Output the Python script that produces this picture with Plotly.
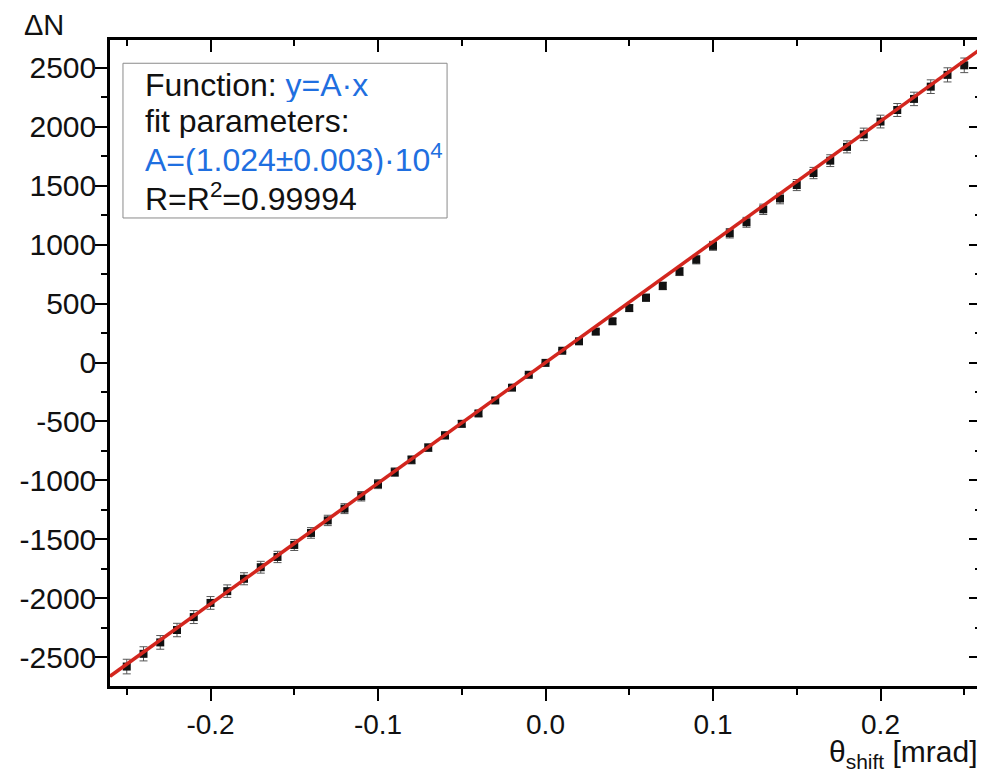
import plotly.graph_objects as go

# ---- data ----
theta_shift = [-0.25, -0.24, -0.23, -0.22, -0.21, -0.20, -0.19, -0.18, -0.17, -0.16,
               -0.15, -0.14, -0.13, -0.12, -0.11, -0.10, -0.09, -0.08, -0.07, -0.06,
               -0.05, -0.04, -0.03, -0.02, -0.01, 0.00, 0.01, 0.02, 0.03, 0.04,
               0.05, 0.06, 0.07, 0.08, 0.09, 0.10, 0.11, 0.12, 0.13, 0.14,
               0.15, 0.16, 0.17, 0.18, 0.19, 0.20, 0.21, 0.22, 0.23, 0.24, 0.25]
delta_n = [-2580, -2472, -2375, -2270, -2160, -2040, -1940, -1835, -1737, -1650,
           -1548, -1446, -1340, -1240, -1135, -1032, -930, -826, -722, -618,
           -520, -432, -322, -213, -104, -3, 100, 180, 262, 350,
           462, 550, 650, 772, 873, 990, 1097, 1190, 1300, 1392,
           1506, 1608, 1713, 1830, 1936, 2045, 2143, 2237, 2341, 2441, 2522]
delta_n_err = [62, 60, 58, 57, 55, 54, 53, 51, 50, 48,
               47, 45, 44, 42, 40, 38, 36, 34, 32, 30,
               27, 24, 21, 17, 12, 5, 12, 17, 21, 24,
               27, 30, 32, 34, 36, 38, 40, 42, 44, 45,
               47, 48, 50, 51, 53, 54, 55, 57, 58, 60, 62]
fit_A = 1.024e4
x_range = [-0.26, 0.26]
y_range = [-2745, 2737]
x_tickvals = [-0.2, -0.1, 0.0, 0.1, 0.2]
x_ticktext = ["-0.2", "-0.1", "0.0", "0.1", "0.2"]
y_tickvals = [-2500, -2000, -1500, -1000, -500, 0, 500, 1000, 1500, 2000, 2500]
y_ticktext = ["-2500", "-2000", "-1500", "-1000", "-500", "0", "500", "1000", "1500", "2000", "2500"]

FONT = "Liberation Sans, Arial, sans-serif"
BLUE = "#1f6fe0"
RED = "#d3261e"

fig = go.Figure()

fig.add_trace(go.Scatter(
    x=theta_shift, y=delta_n, mode="markers",
    marker=dict(symbol="square", size=8, color="#111111"),
    error_y=dict(type="data", array=delta_n_err, visible=True,
                 color="#555555", thickness=1, width=4),
    showlegend=False, hoverinfo="skip"))

fit_x = [x_range[0], x_range[1]]
fit_y = [fit_A * v for v in fit_x]
fig.add_trace(go.Scatter(
    x=fit_x, y=fit_y, mode="lines",
    line=dict(color=RED, width=3.5),
    showlegend=False, hoverinfo="skip"))

# dummy trace for the mirrored (inside) ticks on top/right
fig.add_trace(go.Scatter(x=[None], y=[None], xaxis="x2", yaxis="y2",
                         showlegend=False, hoverinfo="skip"))

axis_common = dict(showgrid=False, zeroline=False, automargin=False)

# page body adds an 8px offset, so the figure is 8px smaller than the window
fig.update_layout(
    width=977, height=764,
    margin=dict(l=102, r=4, t=32, b=86),
    plot_bgcolor="white", paper_bgcolor="white",
    font=dict(family=FONT, size=28, color="#111111"),
    xaxis=dict(range=x_range, tickvals=x_tickvals, ticktext=x_ticktext,
               ticks="outside", ticklen=12, tickwidth=2, tickcolor="black",
               showline=True, linewidth=2.5, linecolor="black", mirror=True,
               minor=dict(dtick=0.05, tick0=0, ticks="outside", ticklen=6,
                          tickwidth=2, tickcolor="black"),
               tickfont=dict(size=28), **axis_common),
    yaxis=dict(range=y_range, tickvals=y_tickvals, ticktext=y_ticktext,
               ticks="outside", ticklen=12, tickwidth=2, tickcolor="black",
               showline=True, linewidth=2.5, linecolor="black", mirror=True,
               minor=dict(dtick=250, tick0=0, ticks="outside", ticklen=6,
                          tickwidth=2, tickcolor="black"),
               ticklabelstandoff=-7,
               tickfont=dict(size=30), **axis_common),
    xaxis2=dict(range=x_range, overlaying="x", side="top", anchor="y",
                tickvals=x_tickvals, showticklabels=False,
                ticks="inside", ticklen=12, tickwidth=2, tickcolor="black",
                minor=dict(dtick=0.05, tick0=0, ticks="inside", ticklen=6,
                           tickwidth=2, tickcolor="black"),
                showline=False, **axis_common),
    yaxis2=dict(range=y_range, overlaying="y", side="right", anchor="x",
                tickvals=y_tickvals, showticklabels=False,
                ticks="inside", ticklen=12, tickwidth=2, tickcolor="black",
                minor=dict(dtick=250, tick0=0, ticks="inside", ticklen=6,
                           tickwidth=2, tickcolor="black"),
                showline=False, **axis_common),
)

# fit info box
fig.add_shape(type="rect", xref="paper", yref="paper",
              x0=0.0149, x1=0.387, y0=0.7245, y1=0.964,
              line=dict(color="#8a8a8a", width=1), fillcolor="white", layer="above")

box_lines = [
    ("Function: <span style='color:%s'>y=A·x</span>" % BLUE, 0.930),
    ("fit parameters:", 0.875),
    ("<span style='color:%s'>A=(1.024±0.003)·10<sup>4</sup></span>" % BLUE, 0.818),
    ("R=R<sup>2</sup>=0.99994", 0.757),
]
for txt, yy in box_lines:
    fig.add_annotation(text=txt, xref="paper", yref="paper", x=0.0379, y=yy,
                       xanchor="left", yanchor="middle", showarrow=False,
                       height=34,
                       font=dict(family=FONT, size=32, color="#111111"))

# axis titles
fig.add_annotation(text="ΔN", xref="paper", yref="paper", x=-0.101, y=1.023,
                   xanchor="left", yanchor="middle", showarrow=False,
                   height=30,
                   font=dict(family=FONT, size=29, color="#111111"))
fig.add_annotation(text="θ<sub>shift</sub> [mrad]", xref="paper", yref="paper",
                   x=0.999, y=-0.105, xanchor="right", yanchor="middle",
                   showarrow=False, height=34,
                   font=dict(family=FONT, size=30, color="#111111"))

fig.write_html("out.html")
